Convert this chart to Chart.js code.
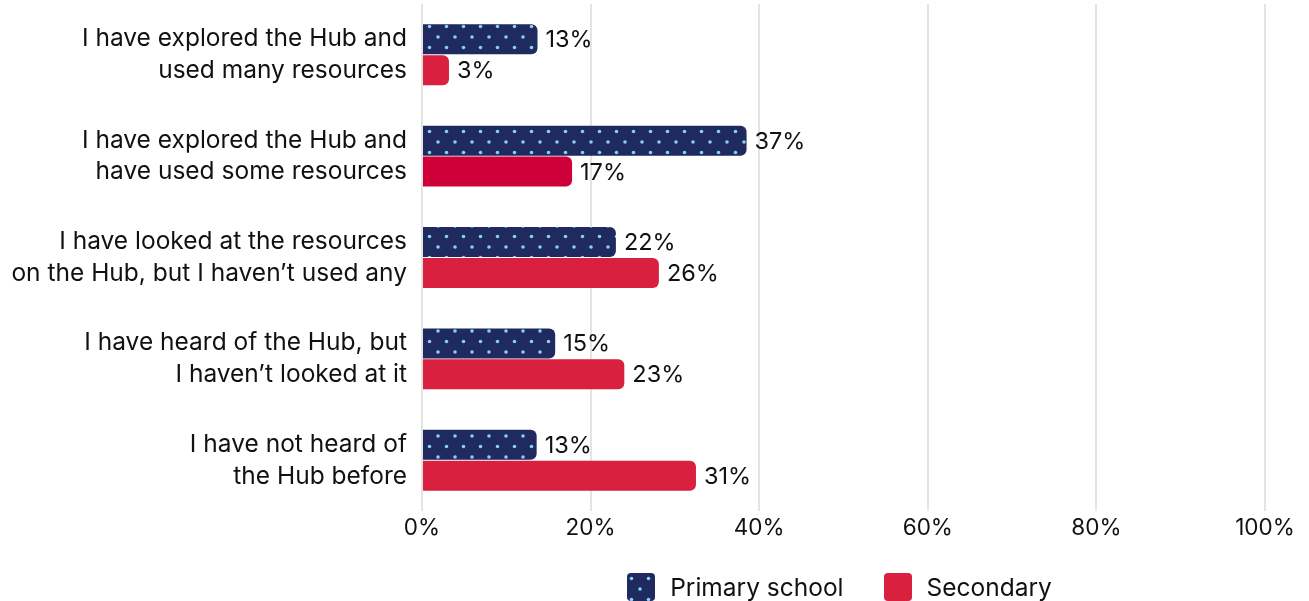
<!DOCTYPE html>
<html>
<head>
<meta charset="utf-8">
<script src="https://cdn.jsdelivr.net/npm/chart.js@4.4.1/dist/chart.umd.min.js"></script>
<style>
  body { margin: 0; background: #fff; font-family: Inter, 'Noto Sans', sans-serif; }
  .wrap { position: relative; width: 1309px; height: 601px; overflow: hidden; }
  .legend { position: absolute; top: 572px; left: 418px; width: 843px; display: flex; justify-content: center; align-items: center; }
  .legend-item { display: flex; align-items: center; margin: 0 20px; font-size: 24.5px; color: #111; }
  .legend-box { width: 28px; height: 28px; border-radius: 4px; margin-right: 15px; }
</style>
</head>
<body>
<div class="wrap">
  <canvas id="chart" width="1309" height="601"></canvas>
  <div id="legend" class="legend"></div>
</div>
<script>
const categories = [
  ['I have explored the Hub and', 'used many resources'],
  ['I have explored the Hub and', 'have used some resources'],
  ['I have looked at the resources', 'on the Hub, but I haven\u2019t used any'],
  ['I have heard of the Hub, but', 'I haven\u2019t looked at it'],
  ['I have not heard of', 'the Hub before']
];
const seriesNames = ['Primary school', 'Secondary'];
const primaryValues = [13.7, 38.5, 23.0, 15.8, 13.6];
const secondaryValues = [3.2, 17.8, 28.1, 24.0, 32.5];
const primaryLabels = ['13%', '37%', '22%', '15%', '13%'];
const secondaryLabels = ['3%', '17%', '26%', '23%', '31%'];
const xTicks = [0, 20, 40, 60, 80, 100];

const NAVY = '#1f2a5e';
const DOT = '#86d0f5';
const RED = '#d9203e';
const secondaryColors = [RED, '#cf0039', RED, RED, RED];

// dotted tile for the primary series
const tile = document.createElement('canvas');
tile.width = 17;
tile.height = 21;
const tctx = tile.getContext('2d');
tctx.fillStyle = NAVY;
tctx.fillRect(0, 0, 17, 21);
tctx.fillStyle = DOT;
[[4.5, 5.5], [13, 16]].forEach(([x, y]) => {
  tctx.beginPath();
  tctx.arc(x, y, 1.8, 0, Math.PI * 2);
  tctx.fill();
});

const ctx = document.getElementById('chart').getContext('2d');
const dotPattern = ctx.createPattern(tile, 'repeat');

const valueLabels = {
  id: 'valueLabels',
  afterDatasetsDraw(chart) {
    const c = chart.ctx;
    c.save();
    c.font = '23.5px Inter, "Noto Sans", sans-serif';
    c.fillStyle = '#111';
    c.textBaseline = 'middle';
    c.textAlign = 'left';
    chart.data.datasets.forEach((ds, i) => {
      chart.getDatasetMeta(i).data.forEach((bar, j) => {
        c.fillText(ds.valueText[j], bar.x + 8, bar.y + 1);
      });
    });
    c.restore();
  }
};

const barCommon = {
  categoryPercentage: 0.61,
  barPercentage: 0.97,
  borderSkipped: 'start',
  borderWidth: 0,
  borderRadius: { topRight: 6, bottomRight: 6, topLeft: 0, bottomLeft: 0 }
};

new Chart(ctx, {
  type: 'bar',
  plugins: [valueLabels],
  data: {
    labels: categories,
    datasets: [
      { ...barCommon, label: seriesNames[0], data: primaryValues, valueText: primaryLabels, backgroundColor: dotPattern },
      { ...barCommon, label: seriesNames[1], data: secondaryValues, valueText: secondaryLabels, backgroundColor: secondaryColors }
    ]
  },
  options: {
    indexAxis: 'y',
    responsive: false,
    animation: false,
    layout: { padding: { top: 4, right: 44, bottom: 55, left: 0 } },
    plugins: {
      legend: { display: false },
      tooltip: { enabled: false }
    },
    scales: {
      x: {
        min: 0,
        max: 100,
        afterBuildTicks: (scale) => { scale.ticks = xTicks.map((v) => ({ value: v })); },
        afterFit: (scale) => { scale.paddingLeft = 0; scale.paddingRight = 0; },
        grid: { color: '#e4e4e4', lineWidth: 2, drawTicks: false },
        border: { display: false },
        ticks: {
          padding: 4,
          color: '#111',
          font: { family: 'Inter', size: 22.5 },
          callback: (v) => v + '%'
        }
      },
      y: {
        grid: { display: false, drawTicks: false },
        border: { display: false },
        afterFit: (scale) => { scale.width = 422; scale.paddingTop = 0; scale.paddingBottom = 0; },
        ticks: {
          padding: 15,
          color: '#111',
          font: { family: 'Inter', size: 24.5, lineHeight: 1.3 }
        }
      }
    }
  }
});

// html legend
const legendEl = document.getElementById('legend');
const swatches = ['url(' + tile.toDataURL() + ')', RED];
seriesNames.forEach((name, i) => {
  const item = document.createElement('div');
  item.className = 'legend-item';
  const box = document.createElement('div');
  box.className = 'legend-box';
  box.style.background = swatches[i];
  const text = document.createElement('span');
  text.textContent = name;
  item.appendChild(box);
  item.appendChild(text);
  legendEl.appendChild(item);
});
</script>
</body>
</html>
